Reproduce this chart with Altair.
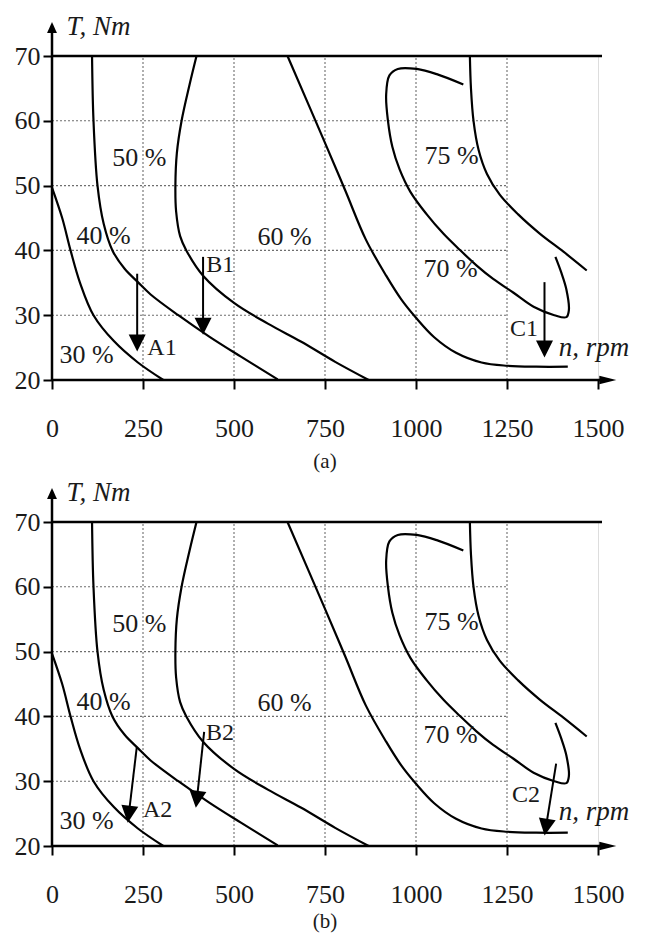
import altair as alt
import pandas as pd

# ---------------- data ----------------
X_TICKS = [0, 250, 500, 750, 1000, 1250, 1500]
Y_TICKS = [20, 30, 40, 50, 60, 70]
GRID_X = [250, 500, 750, 1000, 1250]
GRID_Y = [30, 40, 50, 60]

C30_N = [0, 28, 51, 77, 114, 170, 236, 306]
C30_T = [49.7, 45.0, 40.0, 35.0, 30.0, 26.0, 22.7, 20.0]

C40_N = [110, 114, 125, 142, 166, 199, 236, 271, 347, 432, 519, 620]
C40_T = [70, 60, 50, 44.1, 40.0, 37.2, 35.1, 33.2, 30.0, 26.7, 23.6, 20.1]

C50_N = [397, 378, 356, 343, 339, 341, 352, 369, 415, 500, 593, 685, 778, 870]
C50_T = [70, 65.6, 60, 55, 50, 46, 42.2, 40, 36.1, 31.9, 28.7, 25.9, 22.8, 20.0]

C60_N = [647, 750, 806, 862, 918, 960, 1000, 1050, 1110, 1180, 1250, 1330, 1417]
C60_T = [70, 56.6, 49.2, 41.7, 36.1, 32.4, 29.6, 26.6, 24.2, 22.7, 22.2, 22.05, 22.05]

C70_N = [1130, 1057, 1002, 950, 927, 918, 923, 935, 955, 985, 1029, 1075, 1120,
         1166, 1212, 1267, 1323, 1380, 1413, 1420, 1413, 1399, 1383]
C70_T = [65.6, 67.2, 68.0, 68.0, 67.0, 64.0, 60.0, 56.0, 52.5, 49.0, 45.6, 42.6, 40.1,
         37.7, 35.6, 33.5, 31.3, 30.0, 29.7, 30.8, 34.0, 36.6, 39.0]

C75_N = [1148, 1151, 1158, 1172, 1195, 1230, 1280, 1340, 1405, 1469]
C75_T = [70, 65, 60, 55.5, 51.8, 48.6, 45.6, 42.6, 39.8, 36.9]

PCT_TEXT = ["50 %", "40 %", "60 %", "30 %", "75 %", "70 %"]
PCT_N = [240, 142, 639, 95, 1098, 1095]
PCT_T = [54.2, 42.2, 42.0, 23.8, 54.5, 37.2]

# panel (a) arrows
A_NAMES = ["A1", "B1", "C1"]
A_START_N = [234, 415, 1353]
A_START_T = [36.4, 39.0, 35.1]
A_HEAD_N = [234, 415, 1353]
A_HEAD_T = [25.7, 28.3, 24.8]
A_ANGLE = [0, 0, 0]
A_LABEL_N = [262, 424, 1258]
A_LABEL_T = [24.9, 37.7, 27.9]
A_RPM_T = 24.9

# panel (b) arrows
B_NAMES = ["A2", "B2", "C2"]
B_START_N = [233, 418, 1385]
B_START_T = [35.3, 37.6, 32.7]
B_HEAD_N = [211, 398, 1357]
B_HEAD_T = [24.9, 27.2, 22.9]
B_ANGLE = [7, 7, 9]
B_LABEL_N = [250, 423, 1264]
B_LABEL_T = [25.6, 37.4, 27.8]
B_RPM_T = 25.3

RPM_N = 1392
TNM_N = 40
TNM_T = 74.5

FONT = "Liberation Serif"
INK = "#1a1a1a"

# ---------------- tables ----------------
curves = []
for name, ns, ts in [("30", C30_N, C30_T), ("40", C40_N, C40_T), ("50", C50_N, C50_T),
                     ("60", C60_N, C60_T), ("70", C70_N, C70_T), ("75", C75_N, C75_T)]:
    for i, (a, b) in enumerate(zip(ns, ts)):
        curves.append({"curve": name, "seq": i, "n": a, "T": b})
curves_df = pd.DataFrame(curves)

grid_rows = [{"x1": g, "x2": g, "y1": Y_TICKS[0], "y2": Y_TICKS[-1]} for g in GRID_X]
grid_rows += [{"x1": X_TICKS[0], "x2": GRID_X[-1], "y1": g, "y2": g} for g in GRID_Y]
grid_df = pd.DataFrame(grid_rows)

frame_df = pd.DataFrame([
    {"x1": 0, "x2": 1525, "y1": 20, "y2": 20},   # n axis
    {"x1": 0, "x2": 0, "y1": 20, "y2": 74.0},    # T axis
    {"x1": 0, "x2": 1511, "y1": 70, "y2": 70},   # T = 70 limit
])
xhead_df = pd.DataFrame([{"n": 1527, "T": 20}])
yhead_df = pd.DataFrame([{"n": 0, "T": 74.4}])
pct_df = pd.DataFrame({"txt": PCT_TEXT, "n": PCT_N, "T": PCT_T})

XS = alt.Scale(domain=[0, 1500], nice=False, zero=False)
YS = alt.Scale(domain=[20, 70], nice=False, zero=False)

XAX = alt.Axis(values=X_TICKS, format="d", domain=False, grid=False, ticks=True,
               tickSize=9, tickWidth=2, tickColor="black", labelFont=FONT,
               labelFontSize=26, labelColor=INK, labelPadding=26, title=None,
               labelFlush=False, labelOverlap=False)
YAX = alt.Axis(values=Y_TICKS, format="d", domain=False, grid=False, ticks=True,
               tickSize=9, tickWidth=2, tickColor="black", labelFont=FONT,
               labelFontSize=26, labelColor=INK, labelPadding=3, title=None,
               labelOverlap=False)


def X(f):
    return alt.X(f, type="quantitative", scale=XS, axis=XAX)


def Y(f):
    return alt.Y(f, type="quantitative", scale=YS, axis=YAX)


def panel(names, sn, st, hn, ht, ang, ln, lt, rpm_t, caption, cap_offset):
    arrows_df = pd.DataFrame({"name": names, "sn": sn, "st": st, "hn": hn, "ht": ht,
                              "ang": ang, "ln": ln, "lt": lt})
    grid = alt.Chart(grid_df).mark_rule(color="#6e6e6e", strokeWidth=1.1,
                                        strokeDash=[2, 2]).encode(
        x=X("x1"), x2="x2", y=Y("y1"), y2="y2")
    frame = alt.Chart(frame_df).mark_rule(color="black", strokeWidth=2.5).encode(
        x=X("x1"), x2="x2", y=Y("y1"), y2="y2")
    xhead = alt.Chart(xhead_df).mark_point(
        shape="M-1,-0.5L1,0L-1,0.5Z", filled=True, size=289, color="black", opacity=1
    ).encode(x=X("n"), y=Y("T"))
    yhead = alt.Chart(yhead_df).mark_point(
        shape="M0,-1L0.9,1L-0.9,1Z", filled=True, size=121, color="black", opacity=1
    ).encode(x=X("n"), y=Y("T"))
    lines = alt.Chart(curves_df).mark_line(
        color="black", strokeWidth=2.2, interpolate="catmull-rom"
    ).encode(x=X("n"), y=Y("T"), detail="curve:N", order="seq:Q")
    shafts = alt.Chart(arrows_df).mark_rule(color="black", strokeWidth=2).encode(
        x=X("sn"), y=Y("st"), x2="hn", y2="ht")
    heads = alt.Chart(arrows_df).mark_point(
        shape="M-1,-1L1,-1L0,1Z", filled=True, size=289, color="black", opacity=1
    ).encode(x=X("hn"), y=Y("ht"), angle=alt.Angle("ang:Q", scale=None))
    alabels = alt.Chart(arrows_df).mark_text(
        font=FONT, fontSize=24, color=INK, align="left", baseline="middle"
    ).encode(x=X("ln"), y=Y("lt"), text="name:N")
    pct = alt.Chart(pct_df).mark_text(
        font=FONT, fontSize=26, color=INK, align="center", baseline="middle"
    ).encode(x=X("n"), y=Y("T"), text="txt:N")
    titles_df = pd.DataFrame([{"txt": "T, Nm", "n": TNM_N, "T": TNM_T},
                              {"txt": "n, rpm", "n": RPM_N, "T": rpm_t}])
    titles = alt.Chart(titles_df).mark_text(
        font=FONT, fontSize=27, fontStyle="italic", color=INK, align="left",
        baseline="middle"
    ).encode(x=X("n"), y=Y("T"), text="txt:N")
    return alt.layer(grid, lines, frame, xhead, yhead, shafts, heads, alabels, pct,
                     titles).properties(
        width=546, height=324,
        title=alt.TitleParams(caption, orient="bottom", anchor="middle", font=FONT,
                              fontSize=21, fontWeight="normal", color=INK,
                              offset=cap_offset))


top = panel(A_NAMES, A_START_N, A_START_T, A_HEAD_N, A_HEAD_T, A_ANGLE,
            A_LABEL_N, A_LABEL_T, A_RPM_T, "(a)", 10)
bottom = panel(B_NAMES, B_START_N, B_START_T, B_HEAD_N, B_HEAD_T, B_ANGLE,
               B_LABEL_N, B_LABEL_T, B_RPM_T, "(b)", 4)

chart = alt.vconcat(top, bottom, spacing=5).properties(
    padding={"left": 5, "top": 4, "right": 5, "bottom": 0}
).configure_view(stroke=None).configure(background="white")

chart.save("out.html", embed_options={"renderer": "svg", "actions": False})
